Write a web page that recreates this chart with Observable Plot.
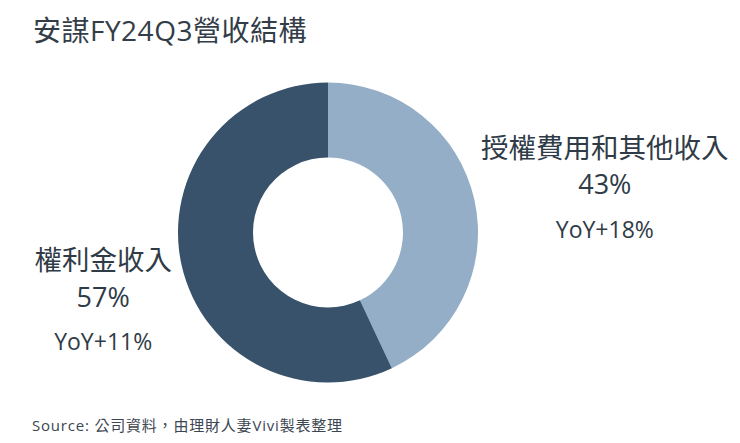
<!DOCTYPE html>
<html><head><meta charset="utf-8">
<script src="https://cdn.jsdelivr.net/npm/d3@7"></script>
<script src="https://cdn.jsdelivr.net/npm/@observablehq/plot@0.6"></script>
<style>
html,body{margin:0;padding:0;background:#fff}
body{width:740px;height:443px;overflow:hidden;font-family:"Open Sans","Noto Sans CJK TC",sans-serif;color:#2f3b47}
#title{height:60px;box-sizing:border-box;padding:14px 0 0 33px;font-size:28px;line-height:32px;font-weight:400;color:#333d48;letter-spacing:0.5px}
#chart{height:345px}
#source{height:38px;box-sizing:border-box;padding:11px 0 0 32px;font-size:15px;line-height:18px;color:#3c4652;letter-spacing:0.8px}
</style></head><body>
<div id="title">安謀FY24Q3營收結構</div>
<div id="chart"></div>
<div id="source">Source: 公司資料，由理財人妻Vivi製表整理</div>
<script>
// Data
const categories = ["授權費用和其他收入", "權利金收入"];
const shares = [43, 57];
const yoyLabels = ["YoY+18%", "YoY+11%"];
const colors = ["#93aec6", "#37526a"];

const data = categories.map((name, i) => ({name, share: shares[i], yoy: yoyLabels[i]}));

const innerR = 75, outerR = 150, labelR = 257;
const textColor = "#2f3b47";
const fontFamily = '"Open Sans", "Noto Sans CJK TC", sans-serif';

function renderDonut(index, scales, values, dimensions) {
  const {width, height, marginLeft, marginRight, marginTop, marginBottom} = dimensions;
  const cx = (marginLeft + width - marginRight) / 2;
  const cy = (marginTop + height - marginBottom) / 2;
  const arc = d3.arc().innerRadius(innerR).outerRadius(outerR);
  const labelArc = d3.arc().innerRadius(labelR).outerRadius(labelR);
  const g = d3.create("svg:g").attr("transform", `translate(${cx},${cy})`);
  for (const i of index) {
    const a = {startAngle: values.x1[i], endAngle: values.x2[i]};
    g.append("path").attr("d", arc(a)).attr("fill", values.fill[i]);
    const [lx, ly] = labelArc.centroid(a);
    const t = g.append("g")
      .attr("transform", `translate(${lx + 26},${ly + 13})`)
      .attr("text-anchor", "middle")
      .attr("fill", textColor)
      .attr("font-family", fontFamily);
    const d = data[i];
    t.append("text").attr("y", -31.5).attr("font-size", 27.5).text(d.name);
    t.append("text").attr("y", 5).attr("font-size", 27).text(`${d.share}%`);
    t.append("text").attr("y", 48.5).attr("font-size", 23).text(d.yoy);
  }
  return g.node();
}

const chart = Plot.plot({
  width: 740,
  height: 345,
  marginLeft: 0,
  marginRight: 84,
  marginTop: 0,
  marginBottom: 0,
  x: {domain: [0, d3.sum(shares)], range: [0, 2 * Math.PI], axis: null},
  y: {axis: null},
  color: {domain: categories, range: colors},
  marks: [
    Plot.barX(data, Plot.stackX({x: "share", fill: "name", order: null, render: renderDonut}))
  ]
});
document.getElementById("chart").appendChild(chart);
</script>
</body></html>
